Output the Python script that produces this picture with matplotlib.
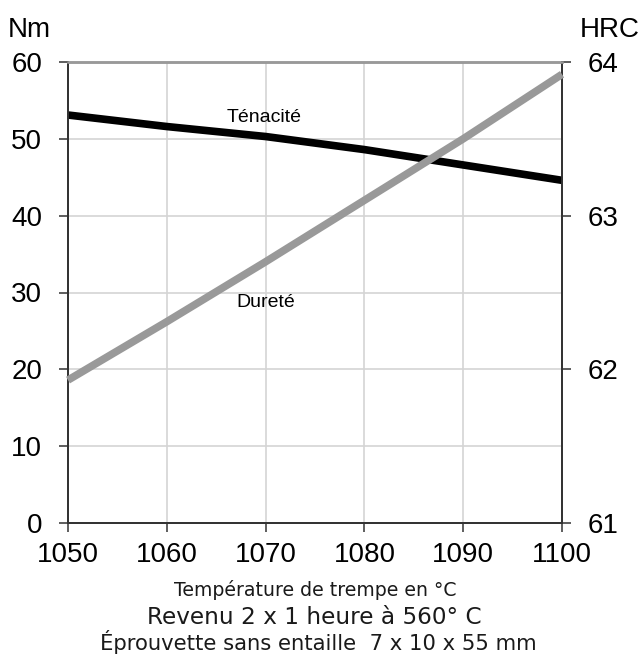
import matplotlib
matplotlib.use("Agg")
import matplotlib.pyplot as plt

temps = [1050, 1060, 1070, 1080, 1090, 1100]
tenacite_nm = [53.1, 51.6, 50.3, 48.6, 46.6, 44.6]
durete_hrc = [61.93, 62.31, 62.70, 63.10, 63.50, 63.92]

x_ticks = [1050, 1060, 1070, 1080, 1090, 1100]
left_ticks = [0, 10, 20, 30, 40, 50, 60]
right_ticks = [61, 62, 63, 64]

plt.rcParams['font.family'] = ['Liberation Sans', 'DejaVu Sans']

W, H = 644, 655
fig = plt.figure(figsize=(W/100, H/100), dpi=100)
ax = fig.add_axes([68/W, 1 - 523/H, (562-68)/W, (523-62)/H])
ax2 = ax.twinx()

ax.set_xlim(1050, 1100)
ax.set_ylim(0, 60)
ax2.set_ylim(61, 64)
ax.set_xticks(x_ticks)
ax.set_yticks(left_ticks)
ax2.set_yticks(right_ticks)

ax.grid(True, color='#d4d4d4', linewidth=1.2)
ax.set_axisbelow(True)

ax.plot(temps, tenacite_nm, color='black', linewidth=5.5, solid_capstyle='butt', clip_on=False, zorder=3)
ax2.plot(temps, durete_hrc, color='#999999', linewidth=5.5, solid_capstyle='butt', clip_on=False, zorder=3)

for a in (ax, ax2):
    for s in ('left', 'right', 'bottom'):
        a.spines[s].set_color('#333333')
        a.spines[s].set_linewidth(1.3)
    a.spines['top'].set_color('#999999')
    a.spines['top'].set_linewidth(1.8)

ax.tick_params(axis='both', direction='out', length=6.5, width=1.1, color='#333333',
               labelsize=20, pad=12)
ax.tick_params(axis='x', pad=7)
ax2.tick_params(axis='y', direction='out', length=6.5, width=1.1, color='#333333',
                labelsize=20, pad=12)

fig.text(8/W, 1 - 30/H, 'Nm', fontsize=20, ha='left', va='center')
fig.text(640/W, 1 - 30/H, 'HRC', fontsize=20, ha='right', va='center')

ax.text(1069.9, 52.2, 'Ténacité', fontsize=14, ha='center', va='baseline')
ax.text(1070.0, 28.1, 'Dureté', fontsize=14, ha='center', va='baseline')

bfont = ['DejaVu Sans']
bottom_texts = [
    ('Température de trempe en °C', 315, 596, 280),
    ('Revenu 2 x 1 heure à 560° C', 314, 624, 333),
    ('Éprouvette sans entaille  7 x 10 x 55 mm', 318, 650, 436),
]
renderer = fig.canvas.get_renderer()
for s, cx, by, target_w in bottom_texts:
    t = fig.text(cx/W, 1 - by/H, s, fontsize=12, ha='center', va='baseline',
                 family=bfont, color='#1a1a1a')
    w = t.get_window_extent(renderer=renderer).width
    t.set_fontsize(12 * target_w / w)

fig.savefig('out.png', dpi=100)
